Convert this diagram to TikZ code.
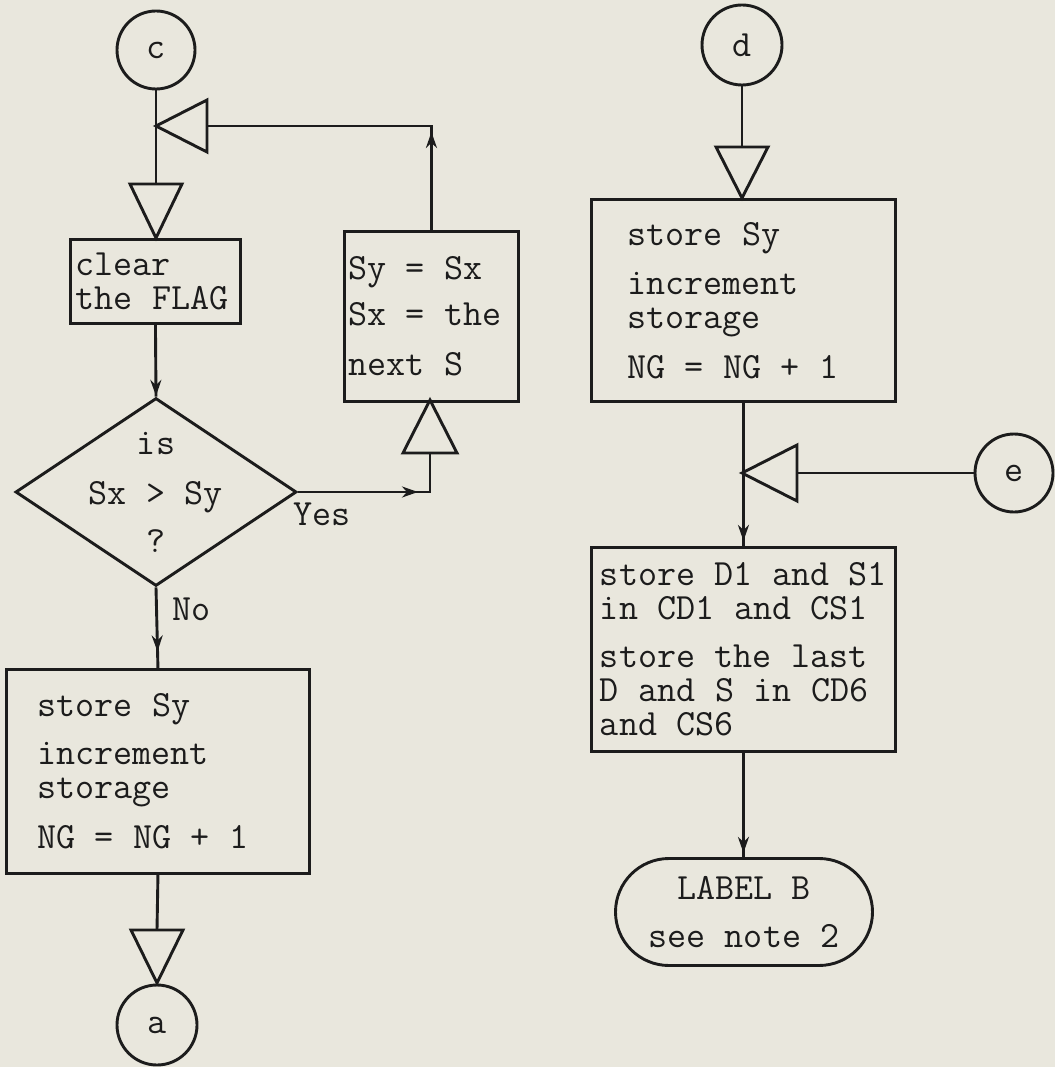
\documentclass[tikz,border=0pt]{standalone}
\usepackage{fontspec}
\usetikzlibrary{arrows.meta,shapes.geometric,shapes.misc,decorations.markings}
\definecolor{paper}{RGB}{233,231,221}
\definecolor{ink}{RGB}{28,28,28}
% typewriter text
\newcommand\typewriter{\ttfamily\fontsize{37}{34}\selectfont}
\tikzset{
  % keep full-width monospaced spaces, also inside ragged text blocks
  every node/.append style={execute at begin node={\spaceskip=0.525em\relax\xspaceskip=0.525em\relax}},
  base/.style={draw=ink, line width=2.9pt, text=ink},
  proc/.style={base, rectangle, align=left, anchor=north west, inner ysep=0pt},
  conn/.style={base, circle, minimum size=#1, inner sep=0pt},
  decision/.style={base, diamond, inner sep=0pt},
  term/.style={base, rounded rectangle, align=center, inner sep=0pt},
  tag/.style={text=ink, inner sep=0pt, anchor=base west},
  wire/.style={draw=ink, line width=2.9pt},
  tri/.style={draw=ink, line width=2.9pt, line join=miter},
  midarrow/.style={postaction={decorate, decoration={markings,
      mark=at position #1 with {\arrow{Stealth[length=16pt,width=11pt]}}}}}
}
\begin{document}
\begin{tikzpicture}[x=1pt, y=-1pt, font=\typewriter]
  % paper
  \fill[paper] (0,0) rectangle (1055,1067);
  \useasboundingbox (0,0) rectangle (1055,1067);

  % ---------- left chain ----------
  \node[conn=78pt] (c) at (156,50) {c};
  \coordinate (m1apex) at (156,126);
  \coordinate (m1base) at (207,126);
  \draw[tri] (m1apex) -- (207,100) -- (207,152) -- cycle;
  \coordinate (t1top) at (156,184);
  \draw[tri] (130,184) -- (182,184) -- (156,238) -- cycle;

  \node[proc, text width=160pt, inner xsep=5pt, minimum height=84pt]
    (clr) at (69,238) {clear\\the FLAG};

  \node[decision, minimum width=281pt, minimum height=188pt,
        label={[align=center, text=ink, name=dectext]center:is\\[16pt]Sx > Sy\\[14pt]?}]
    (dec) at (156,492) {};

  \node[proc, text width=166pt, inner xsep=4pt, minimum height=170pt]
    (swap) at (343,230) {Sy = Sx\\[12pt]Sx = the\\[16pt]next S};
  \coordinate (t3base) at (430,453);
  \draw[tri] (403,453) -- (457,453) -- (430,400) -- cycle;

  \node[proc, text width=241pt, inner xsep=31pt, minimum height=204pt]
    (storeL) at (5,668) {store Sy\\[14pt]increment\\storage\\[16pt]NG = NG + 1};
  \coordinate (t4top) at (157,930);
  \draw[tri] (131,930) -- (183,930) -- (157,983) -- cycle;
  \node[conn=80pt] (a) at (157,1025) {a};

  \node[tag] (yes) at (293,525) {Yes};
  \node[tag] (no) at (172,620) {No};

  % left connectors
  \draw[wire] (c) -- (t1top);
  \draw[wire, midarrow=71pt] (clr.south) -- (dec.north);
  \draw[wire, midarrow=120pt] (dec.east) -| (t3base);
  \draw[wire, midarrow=98pt] (swap.north) |- (m1base);
  \draw[wire, midarrow=64pt] (dec.south) -- (storeL.north);
  \draw[wire] (storeL.south) -- (t4top);

  % ---------- right chain ----------
  \node[conn=80pt] (d) at (742,45) {d};
  \coordinate (t2top) at (742,147);
  \draw[tri] (716,147) -- (768,147) -- (742,198) -- cycle;

  \node[proc, text width=232pt, inner xsep=36pt, minimum height=202pt]
    (storeR) at (590,198) {store Sy\\[15pt]increment\\storage\\[16pt]NG = NG + 1};

  \coordinate (m2apex) at (742,473);
  \coordinate (m2base) at (797,473);
  \draw[tri] (m2apex) -- (797,445) -- (797,501) -- cycle;
  \node[conn=78pt] (e) at (1014,473) {e};

  \node[proc, minimum width=304pt, inner xsep=2pt, minimum height=204pt]
    (keep) at (590,546) {store D1 and S1\\in CD1 and CS1\\[14pt]store the last\\D and S in CD6\\and CS6};

  \node[term, minimum width=257pt, minimum height=107pt]
    (lbl) at (744,912) {LABEL B\\[14pt]see note 2};

  % right connectors
  \draw[wire] (d) -- (t2top);
  \draw[wire, midarrow=138pt] (storeR.south) -- (keep.north);
  \draw[wire] (e) -- (m2base);
  \draw[wire, midarrow=100pt] (keep.south) -- (keep.south |- lbl.north);
\end{tikzpicture}
\end{document}
